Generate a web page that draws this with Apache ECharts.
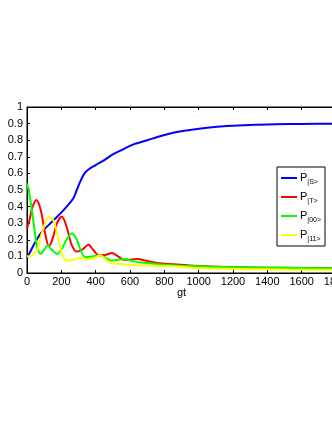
<!DOCTYPE html>
<html>
<head>
<meta charset="utf-8">
<script src="https://cdn.jsdelivr.net/npm/echarts@6/dist/echarts.min.js"></script>
<style>
  html, body { margin: 0; padding: 0; background: #fff; }
  #chart { width: 332px; height: 430px; }
</style>
</head>
<body>
<div id="chart"></div>
<script>
// values (gt on x, probability on y)
var sX = [0, 20, 50, 89, 147, 205, 240, 270, 290, 310, 335, 360, 400, 450, 500, 560, 620, 700, 780, 850, 950, 1050, 1165, 1300, 1450, 1600, 1800];
var sY = [0.09, 0.13, 0.19, 0.25, 0.31, 0.37, 0.41, 0.45, 0.5, 0.55, 0.6, 0.625, 0.65, 0.68, 0.715, 0.745, 0.775, 0.8, 0.825, 0.845, 0.862, 0.875, 0.885, 0.892, 0.896, 0.898, 0.9];

var tX = [0, 15, 30, 54, 80, 105, 128, 150, 175, 203, 230, 260, 290, 320, 358, 385, 420, 460, 495, 530, 565, 600, 645, 690, 750, 850, 1000, 1200, 1400, 1600, 1800];
var tY = [0.27, 0.32, 0.39, 0.44, 0.38, 0.24, 0.16, 0.21, 0.3, 0.34, 0.28, 0.17, 0.13, 0.14, 0.17, 0.14, 0.105, 0.11, 0.12, 0.1, 0.08, 0.08, 0.085, 0.075, 0.062, 0.052, 0.042, 0.036, 0.032, 0.03, 0.028];

var zX = [0, 10, 21, 40, 60, 80, 100, 120, 145, 175, 200, 230, 262, 290, 315, 340, 380, 425, 460, 490, 530, 570, 620, 700, 800, 1000, 1200, 1400, 1600, 1800];
var zY = [0.54, 0.5, 0.43, 0.29, 0.15, 0.115, 0.14, 0.165, 0.14, 0.115, 0.14, 0.2, 0.24, 0.2, 0.13, 0.095, 0.1, 0.105, 0.09, 0.075, 0.08, 0.085, 0.07, 0.06, 0.05, 0.04, 0.035, 0.032, 0.03, 0.028];

var oX = [0, 31, 60, 89, 128, 157, 186, 210, 233, 270, 310, 349, 390, 426, 460, 490, 540, 600, 700, 850, 1000, 1200, 1400, 1600, 1800];
var oY = [0.1, 0.106, 0.14, 0.25, 0.34, 0.31, 0.19, 0.1, 0.075, 0.08, 0.09, 0.08, 0.09, 0.105, 0.08, 0.06, 0.055, 0.05, 0.045, 0.04, 0.03, 0.025, 0.022, 0.02, 0.02];

var names = ["S", "T", "00", "11"];
var colors = ["#0000ff", "#ff0000", "#00ff00", "#ffff00"];

function pairs(xs, ys) {
  return xs.map(function (x, i) { return [x, ys[i]]; });
}

var chart = echarts.init(document.getElementById("chart"));

var font = "Liberation Sans";
var lines = [pairs(sX, sY), pairs(tX, tY), pairs(zX, zY), pairs(oX, oY)];

var option = {
  animation: false,
  grid: {
    left: 27, top: 107, width: 309, height: 166,
    outerBoundsMode: "none",
    show: true, borderColor: "#000", borderWidth: 1
  },
  legend: {
    orient: "vertical",
    left: 277, top: 167,
    padding: [3, 4, 3, 4],
    itemGap: 3,
    itemWidth: 16,
    itemHeight: 2,
    icon: "rect",
    backgroundColor: "#fff",
    borderColor: "#000",
    borderWidth: 1,
    borderRadius: 0,
    data: names,
    formatter: function (n) { return "{p|P}{s||" + n + ">}"; },
    textStyle: {
      padding: [0, 0, 0, -2],
      rich: {
        p: { fontFamily: font, fontSize: 11, color: "#000", lineHeight: 11 },
        s: { fontFamily: font, fontSize: 7, color: "#000", lineHeight: 7, padding: [9, 0, 0, 0] }
      }
    }
  },
  xAxis: [{
    type: "value", min: 0, max: 1800, interval: 200,
    name: "gt", nameLocation: "middle", nameGap: 14,
    nameTextStyle: { fontFamily: font, fontSize: 11, color: "#000" },
    axisLine: { lineStyle: { color: "#000" } },
    axisTick: { inside: true, length: 3, lineStyle: { color: "#000" } },
    axisLabel: { fontFamily: font, fontSize: 11, color: "#000", margin: 3,
      formatter: function (v) { return String(v); } },
    splitLine: { show: false }
  }, {
    type: "value", min: 0, max: 1800, interval: 200, position: "top",
    axisLine: { lineStyle: { color: "#000" } },
    axisTick: { inside: true, length: 3, lineStyle: { color: "#000" } },
    axisLabel: { show: false },
    splitLine: { show: false }
  }],
  yAxis: {
    type: "value", min: 0, max: 1, interval: 0.1,
    axisLine: { show: true, lineStyle: { color: "#000" } },
    axisTick: { show: true, inside: true, length: 3, lineStyle: { color: "#000" } },
    axisLabel: { fontFamily: font, fontSize: 11, color: "#000", margin: 4 },
    splitLine: { show: false }
  },
  series: names.map(function (n, i) {
    return {
      name: n,
      type: "line",
      data: lines[i],
      symbol: "none",
      smooth: 0.3,
      color: colors[i],
      lineStyle: { width: 2, color: colors[i] }
    };
  })
};

chart.setOption(option);
</script>
</body>
</html>
